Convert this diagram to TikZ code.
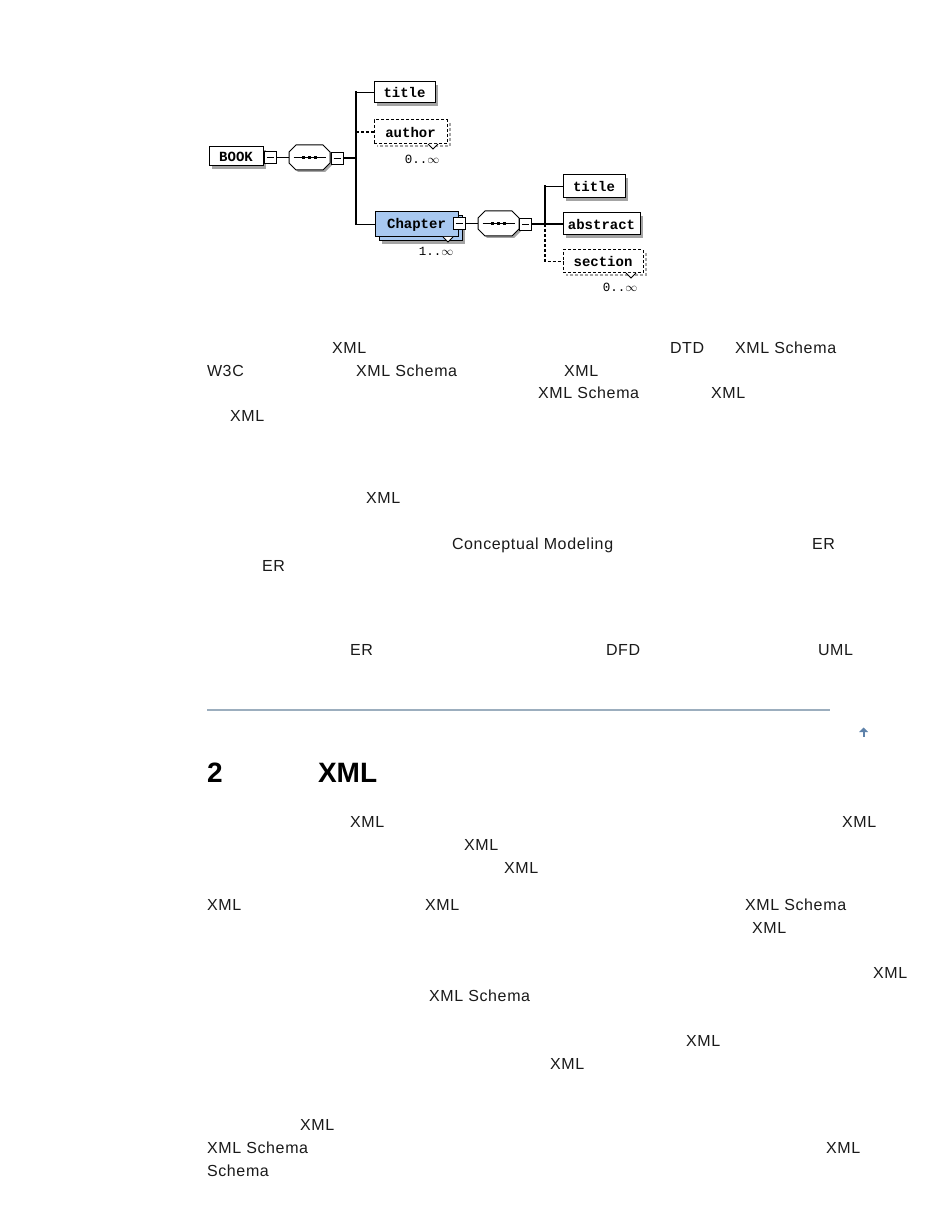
\documentclass[tikz,border=0pt]{standalone}
\usepackage{fontspec}
\setmainfont{Liberation Sans}
\newfontfamily\bodyfont[LetterSpace=4]{Liberation Sans}
\newfontfamily\monofont{Liberation Mono}
\usetikzlibrary{backgrounds,calc}
\definecolor{chapblue}{HTML}{A8C8F0}
\definecolor{shadowgray}{HTML}{A4A4A4}
\definecolor{hrcolor}{HTML}{9CAEBE}
\definecolor{arrowblue}{HTML}{5E82AA}
\definecolor{bodytext}{HTML}{1A1A1A}
\tikzset{
  txt/.style={anchor=base west, inner sep=0pt, outer sep=0pt, text=bodytext, font=\bodyfont\fontsize{16}{19}\selectfont},
  head/.style={anchor=base west, inner sep=0pt, outer sep=0pt, text=black, font=\fontsize{28}{32}\selectfont\bfseries},
  elbox/.style={draw=black, line width=1pt, fill=white, inner sep=0pt, outer sep=0pt, rectangle, font=\monofont\bfseries\fontsize{14}{16}\selectfont},
  optbox/.style={elbox, dash pattern=on 3pt off 2pt},
  sqbox/.style={draw=black, line width=0.9pt, fill=white, minimum size=12pt, inner sep=0pt, outer sep=0pt, rectangle},
  conn/.style={line width=1.1pt, black},
  optconn/.style={line width=1.1pt, black, dash pattern=on 3pt off 2pt},
  bus/.style={line width=2pt, black},
  mult/.style={inner sep=0pt, font=\monofont\fontsize{12.5}{14}\selectfont},
  notch/.style={draw=black, fill=white, line width=0.8pt},
}
\newcommand\seqshape[3]{%
  \node[inner sep=0pt, outer sep=0pt, minimum width=41pt, minimum height=25pt] (#1) at (#2,#3) {};
  \begin{scope}[shift={(#2+2,#3+2)}]
    \fill[shadowgray] (-20.5,-5.5) -- (-13.5,-12.5) -- (13.5,-12.5) -- (20.5,-5.5) -- (20.5,5.5) -- (13.5,12.5) -- (-13.5,12.5) -- (-20.5,5.5) -- cycle;
  \end{scope}
  \begin{scope}[shift={(#2,#3)}]
    \filldraw[fill=white, draw=black, line width=1pt] (-20.5,-5.5) -- (-13.5,-12.5) -- (13.5,-12.5) -- (20.5,-5.5) -- (20.5,5.5) -- (13.5,12.5) -- (-13.5,12.5) -- (-20.5,5.5) -- cycle;
    \draw[line width=0.9pt] (-16,0) -- (16,0);
    \fill (-7.5,-1.5) rectangle (-4.5,1.5);
    \fill (-1.5,-1.5) rectangle (1.5,1.5);
    \fill (4.5,-1.5) rectangle (7.5,1.5);
  \end{scope}}
\newcommand\minusbox[3]{%
  \node[sqbox] (#1) at (#2,#3) {};
  \draw[line width=0.9pt] ([xshift=2.5pt]#1.west) -- ([xshift=-2.5pt]#1.east);}
\newcommand\notchat[2]{%
  \filldraw[notch] (#1-5,#2) -- (#1,#2+5) -- (#1+5,#2);}
\begin{document}
\begin{tikzpicture}[x=1pt,y=-1pt]
\path[use as bounding box] (0,0) rectangle (950,1230);

% ---------------- diagram ----------------
\node[elbox, minimum width=54pt, minimum height=19pt] (book) at (236,156.5) {BOOK};
\minusbox{sqb}{270}{157.5}
\seqshape{seqa}{309.5}{157.5}
\minusbox{sqa}{337}{158}
\coordinate (busa) at (356,0);

\node[elbox, minimum width=61pt, minimum height=21pt] (titlea) at (404.5,92.5) {title};
\node[optbox, minimum width=73pt, minimum height=24pt] (author) at (410.5,132) {author};
\notchat{433}{144}
\node[mult] (multa) at (422,159) {0..$\infty$};

\node[elbox, fill=chapblue, minimum width=83pt, minimum height=25pt] (chap) at (416.5,224.5) {Chapter};
\notchat{448}{237}
\minusbox{sqc}{459}{223.5}
\node[mult] (multc) at (436,251) {1..$\infty$};
\seqshape{seqb}{498.5}{223.5}
\minusbox{sqd}{525.5}{224}
\coordinate (busb) at (545,0);

\node[elbox, minimum width=62pt, minimum height=23pt] (titleb) at (594,186.5) {title};
\node[elbox, minimum width=77pt, minimum height=22pt] (abstract) at (601.5,224) {abstract};
\node[optbox, minimum width=80pt, minimum height=23pt] (section) at (603,261.5) {section};
\notchat{631}{273}
\node[mult] (mults) at (620,287) {0..$\infty$};

% connectors
\draw[conn] (sqb.east) -- (seqa.west);
\draw[conn] (sqa.east) -- (sqa.east -| busa);
\draw[bus] ($(titlea.west -| busa)+(0,-1)$) -- ($(chap.west -| busa)+(0,1)$);
\draw[conn] (titlea.west -| busa) -- (titlea.west);
\draw[optconn] (author.west -| busa) -- (author.west);
\draw[conn] (chap.west -| busa) -- (chap.west);
\draw[conn] (sqc.east) -- (seqb.west);
\draw[conn] (sqd.east) -- (sqd.east -| busb);
\draw[bus] ($(titleb.west -| busb)+(0,-1)$) -- (abstract.west -| busb);
\draw[conn] (titleb.west -| busb) -- (titleb.west);
\draw[conn] (abstract.west -| busb) -- (abstract.west);
\draw[optconn] (abstract.west -| busb) -- (section.west -| busb) -- (section.west);

\begin{scope}[on background layer]
  \fill[white] (0,0) rectangle (950,1230);
  \fill[shadowgray] ($(book.north west)+(3,3)$) rectangle ($(book.south east)+(3,3)$);
  \fill[shadowgray] ($(titlea.north west)+(3,3)$) rectangle ($(titlea.south east)+(3,3)$);
  \fill[shadowgray] ($(titleb.north west)+(3,3)$) rectangle ($(titleb.south east)+(3,3)$);
  \fill[shadowgray] ($(abstract.north west)+(3,3)$) rectangle ($(abstract.south east)+(3,3)$);
  \fill[shadowgray] ($(chap.north west)+(7,7)$) rectangle ($(chap.south east)+(7,7)$);
  \filldraw[fill=chapblue, draw=black, line width=1pt] ($(chap.north west)+(4,4)$) rectangle ($(chap.south east)+(4,4)$);
  \draw[shadowgray, line width=2pt, dash pattern=on 3pt off 2pt] ($(author.north east)+(2.5,3)$) -- ($(author.south east)+(2.5,2.5)$) -- ($(author.south west)+(3,2.5)$);
  \draw[shadowgray, line width=2pt, dash pattern=on 3pt off 2pt] ($(section.north east)+(2.5,3)$) -- ($(section.south east)+(2.5,2.5)$) -- ($(section.south west)+(3,2.5)$);
\end{scope}

% ---------------- text ----------------
\node[txt] (a1) at (332,353) {XML};
\node[txt] (a2) at (670,353) {DTD};
\node[txt] (a3) at (735,353) {XML Schema};
\node[txt] (b1) at (207,376) {W3C};
\node[txt] (b2) at (356,376) {XML Schema};
\node[txt] (b3) at (564,376) {XML};
\node[txt] (c1) at (538,398) {XML Schema};
\node[txt] (c2) at (711,398) {XML};
\node[txt] (d1) at (230,421) {XML};
\node[txt] (e1) at (366,503) {XML};
\node[txt] (f1) at (452,549) {Conceptual Modeling};
\node[txt] (f2) at (812,549) {ER};
\node[txt] (g1) at (262,571) {ER};
\node[txt] (h1) at (350,655) {ER};
\node[txt] (h2) at (606,655) {DFD};
\node[txt] (h3) at (818,655) {UML};

\draw[hrcolor, line width=1.2pt] (207,710) -- (830,710);
\fill[arrowblue] (859,732) -- (863.5,727.5) -- (868,732) -- cycle;
\fill[arrowblue] (862.5,731) rectangle (864.5,737);

\node[head] (h2a) at (207,782) {2};
\node[head] (h2b) at (318,782) {XML};

\node[txt] (i1) at (350,827) {XML};
\node[txt] (i2) at (842,827) {XML};
\node[txt] (j1) at (464,850) {XML};
\node[txt] (k1) at (504,873) {XML};
\node[txt] (l1) at (207,910) {XML};
\node[txt] (l2) at (425,910) {XML};
\node[txt] (l3) at (745,910) {XML Schema};
\node[txt] (m1) at (752,933) {XML};
\node[txt] (n1) at (873,978) {XML};
\node[txt] (o1) at (429,1001) {XML Schema};
\node[txt] (p1) at (686,1046) {XML};
\node[txt] (q1) at (550,1069) {XML};
\node[txt] (r1) at (300,1130) {XML};
\node[txt] (s1) at (207,1153) {XML Schema};
\node[txt] (s2) at (826,1153) {XML};
\node[txt] (u1) at (207,1176) {Schema};
\end{tikzpicture}
\end{document}
